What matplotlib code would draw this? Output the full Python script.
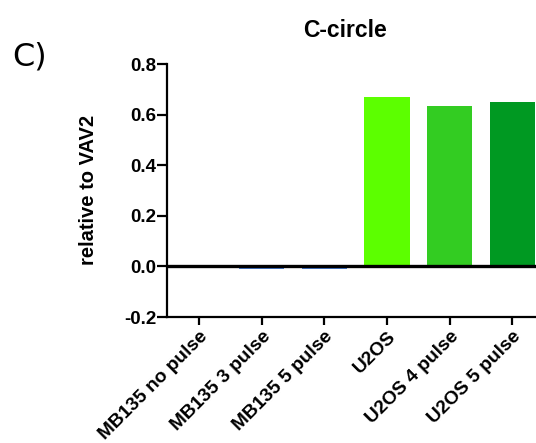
import matplotlib
matplotlib.use("Agg")
import matplotlib.pyplot as plt

categories = ["MB135 no pulse", "MB135 3 pulse", "MB135 5 pulse",
              "U2OS", "U2OS 4 pulse", "U2OS 5 pulse"]
values = [-0.003, -0.012, -0.011, 0.668, 0.636, 0.648]
colors = ["#4a7fd4", "#4a7fd4", "#4a7fd4", "#5cff00", "#33cc22", "#009922"]

plt.rcParams["font.family"] = ["Liberation Sans", "DejaVu Sans"]

fig = plt.figure(figsize=(5.36, 4.43), dpi=100)
ax = fig.add_axes([0.3116, 0.2844, 0.7146, 0.5711])

x = range(len(categories))
ax.bar(x, values, width=0.72, color=colors, zorder=2)
ax.axhline(0, color="black", lw=2.4, zorder=3)

ax.set_xlim(-0.51, 5.6)
ax.set_ylim(-0.2, 0.8)
ax.set_yticks([-0.2, 0.0, 0.2, 0.4, 0.6, 0.8])
ax.set_yticklabels(["-0.2", "0.0", "0.2", "0.4", "0.6", "0.8"],
                   fontsize=13.5, fontweight="bold")
ax.set_xticks(list(x))
ax.set_xticklabels(categories, rotation=45, ha="right",
                   rotation_mode="anchor", fontsize=13.8, fontweight="bold")

for side in ["top", "right"]:
    ax.spines[side].set_visible(False)
for side in ["left", "bottom"]:
    ax.spines[side].set_linewidth(1.6)
ax.tick_params(axis="y", width=1.6, length=7, pad=0.5)
ax.tick_params(axis="x", width=1.6, length=6, pad=2)

ax.set_ylabel("relative to VAV2", fontsize=14.5, fontweight="bold")
ax.yaxis.set_label_coords(-0.18, 0.502)
fig.text(0.644, 0.932, "C-circle", fontsize=16.5, fontweight="bold",
         ha="center", va="center")
fig.text(0.022, 0.871, "C)", fontsize=23, family="DejaVu Sans",
         ha="left", va="center")

fig.savefig("out.png", dpi=100)
